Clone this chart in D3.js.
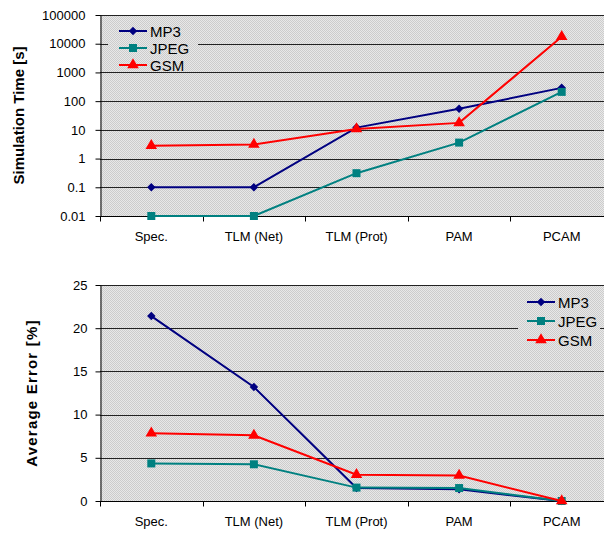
<!DOCTYPE html>
<html>
<head>
<meta charset="utf-8">
<script src="https://cdn.jsdelivr.net/npm/d3@7.9.0/dist/d3.min.js"></script>
<style>
  body { margin: 0; background: #fff; }
  svg { display: block; font-family: "Liberation Sans", Arial, sans-serif; }
</style>
</head>
<body>
<svg id="chart" width="604" height="533"></svg>
<script>
// categories and series
const stages = ['Spec.', 'TLM (Net)', 'TLM (Prot)', 'PAM', 'PCAM'];
const seriesNames = ['MP3', 'JPEG', 'GSM'];
const seriesColors = ['#000080', '#008080', '#ff0000'];
// diamond is drawn as a square turned 45 degrees
const seriesShapes = [d3.symbolSquare, d3.symbolSquare, d3.symbolTriangle];
const seriesRotate = [45, 0, 0];
const seriesSizes = [36, 64, 58];

// simulation time [s]
const timeMP3 = [0.1, 0.1, 12, 54, 290];
const timeJPEG = [0.01, 0.01, 0.31, 3.6, 210];
const timeGSM = [2.8, 3.1, 10.8, 17.5, 17500];
const timeTicks = [0.01, 0.1, 1, 10, 100, 1000, 10000, 100000];

// average error [%]
const errMP3 = [21.4, 13.2, 1.5, 1.35, 0];
const errJPEG = [4.35, 4.25, 1.55, 1.5, 0];
const errGSM = [7.85, 7.6, 3.05, 2.95, 0];
const errTicks = [0, 5, 10, 15, 20, 25];

const svg = d3.select('#chart');

// light checkered fill like the original
const defs = svg.append('defs');
const pat = defs.append('pattern')
  .attr('id', 'dots')
  .attr('width', 2).attr('height', 2)
  .attr('patternUnits', 'userSpaceOnUse');
pat.append('rect').attr('width', 2).attr('height', 2).attr('fill', '#e8e8e8');
pat.append('rect').attr('width', 1).attr('height', 1).attr('fill', '#cccccc');
pat.append('rect').attr('x', 1).attr('y', 1).attr('width', 1).attr('height', 1).attr('fill', '#cccccc');

function marker(k, size) {
  return d3.symbol().type(seriesShapes[k]).size(size || seriesSizes[k]);
}

function drawPanel(opts) {
  const { top, bottom, y, ticks, fmt, data, title, titleX, legend } = opts;
  const left = 100, right = 613;
  const x = d3.scaleBand().domain(stages).range([left, right]);
  const g = svg.append('g');

  g.append('rect')
    .attr('x', left).attr('y', top)
    .attr('width', right - left).attr('height', bottom - top)
    .attr('fill', 'url(#dots)');

  // gridlines
  g.append('g').selectAll('line')
    .data(ticks)
    .join('line')
    .attr('x1', left).attr('x2', right)
    .attr('y1', d => Math.round(y(d)) + 0.5)
    .attr('y2', d => Math.round(y(d)) + 0.5)
    .attr('stroke', '#222').attr('stroke-width', 1);

  // legend box covers the gridlines behind it
  g.append('rect')
    .attr('x', legend.x).attr('y', legend.y)
    .attr('width', legend.w).attr('height', legend.h)
    .attr('fill', 'url(#dots)');

  // y axis
  const yAxis = d3.axisLeft(y).tickValues(ticks).tickFormat(fmt).tickSize(5).tickSizeOuter(0);
  const ya = g.append('g').attr('transform', `translate(${left + 0.5},0)`).call(yAxis);
  ya.select('.domain').attr('stroke', '#000');
  ya.selectAll('.tick line').attr('stroke', '#000');
  ya.selectAll('text').attr('font-size', 13).attr('fill', '#000')
    .attr('font-family', '"Liberation Sans", Arial, sans-serif').attr('x', opts.labelX);

  // x axis with ticks between categories
  const xa = g.append('g').attr('transform', `translate(0,${Math.round(bottom) + 0.5})`);
  xa.append('line').attr('x1', left).attr('x2', right).attr('stroke', '#000');
  xa.selectAll('line.tk')
    .data(stages)
    .join('line')
    .attr('class', 'tk')
    .attr('x1', d => Math.round(x(d)) + 0.5).attr('x2', d => Math.round(x(d)) + 0.5)
    .attr('y1', 0).attr('y2', 5)
    .attr('stroke', '#000');
  xa.selectAll('text')
    .data(stages)
    .join('text')
    .attr('x', d => x(d) + x.bandwidth() / 2)
    .attr('y', 24)
    .attr('text-anchor', 'middle')
    .attr('font-size', 13)
    .text(d => d);

  // y title
  g.append('text')
    .attr('transform', `translate(${titleX},${(top + bottom) / 2}) rotate(-90)`)
    .attr('text-anchor', 'middle')
    .attr('font-size', 15)
    .attr('font-weight', 'bold')
    .attr('letter-spacing', title.spacing)
    .text(title.text);

  // series
  const line = d3.line().x((d, i) => x(stages[i]) + x.bandwidth() / 2).y(d => y(d));
  data.forEach((vals, k) => {
    g.append('path')
      .attr('d', line(vals))
      .attr('fill', 'none')
      .attr('stroke', seriesColors[k])
      .attr('stroke-width', 2);
    g.append('g').selectAll('path')
      .data(vals)
      .join('path')
      .attr('transform', (d, i) =>
        `translate(${x(stages[i]) + x.bandwidth() / 2},${y(d)}) rotate(${seriesRotate[k]})`)
      .attr('d', marker(k))
      .attr('fill', seriesColors[k]);
  });

  // legend entries
  seriesNames.forEach((name, k) => {
    const ly = legend.y + legend.first + k * legend.step;
    const lx = legend.x + legend.pad;
    g.append('line')
      .attr('x1', lx).attr('x2', lx + 28)
      .attr('y1', ly).attr('y2', ly)
      .attr('stroke', seriesColors[k]).attr('stroke-width', 2);
    g.append('path')
      .attr('transform', `translate(${lx + 14},${ly}) rotate(${seriesRotate[k]})`)
      .attr('d', marker(k))
      .attr('fill', seriesColors[k]);
    g.append('text')
      .attr('x', lx + 31).attr('y', ly + 5.5)
      .attr('font-size', 15)
      .text(name);
  });
}

// top: simulation time, log scale
drawPanel({
  top: 15, bottom: 216,
  y: d3.scaleLog().domain([0.01, 100000]).range([216, 15]),
  ticks: timeTicks,
  fmt: d => String(d),
  labelX: -15,
  data: [timeMP3, timeJPEG, timeGSM],
  title: { text: 'Simulation Time [s]', spacing: 0 },
  titleX: 24,
  legend: { x: 108, y: 20, w: 90, h: 52, pad: 11, first: 11, step: 17 }
});

// bottom: average error
drawPanel({
  top: 285, bottom: 501,
  y: d3.scaleLinear().domain([0, 25]).range([501, 285]),
  ticks: errTicks,
  fmt: d => String(d),
  labelX: -13,
  data: [errMP3, errJPEG, errGSM],
  title: { text: 'Average Error [%]', spacing: 1.2 },
  titleX: 37,
  legend: { x: 518, y: 292, w: 82, h: 57, pad: 9, first: 10, step: 19 }
});
</script>
</body>
</html>
